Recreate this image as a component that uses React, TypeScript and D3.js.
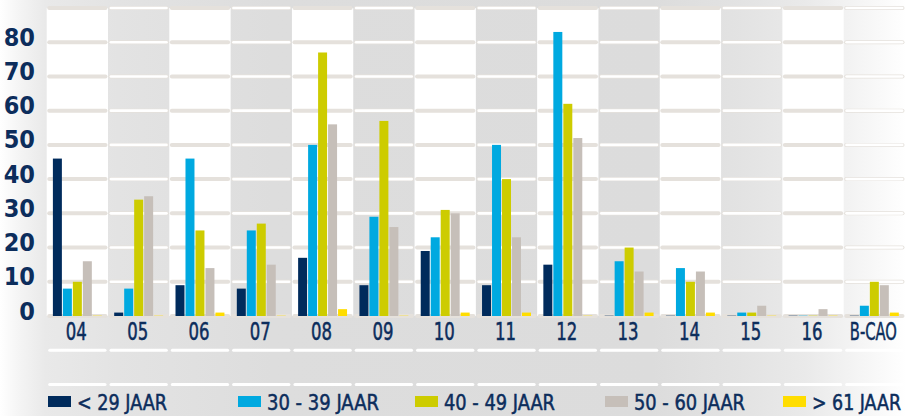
import React from "react";
import * as d3 from "d3";

// categories and series
const categories = ["04", "05", "06", "07", "08", "09", "10", "11", "12", "13", "14", "15", "16", "B-CAO"];
const seriesNames = ["< 29 JAAR", "30 - 39 JAAR", "40 - 49 JAAR", "50 - 60 JAAR", "> 61 JAAR"];
const under29 = [46, 1, 9, 8, 17, 9, 19, 9, 15, 0, 0, 0, 0, 0];
const age30to39 = [8, 8, 46, 25, 50, 29, 23, 50, 83, 16, 14, 1, 0, 3];
const age40to49 = [10, 34, 25, 27, 77, 57, 31, 40, 62, 20, 10, 1, 0, 10];
const age50to60 = [16, 35, 14, 15, 56, 26, 30, 23, 52, 13, 13, 3, 2, 9];
const over61 = [0, 0, 1, 0, 2, 0, 1, 1, 0, 1, 1, 0, 0, 1];
const yTicks = [0, 10, 20, 30, 40, 50, 60, 70, 80];

const seriesValues = [under29, age30to39, age40to49, age50to60, over61];
const colors = ["#002b5c", "#00a9e0", "#cdcc00", "#c6bfb9", "#ffdd00"];
// legend layout (left edge, text width)
const legendX = [48, 238, 415, 605, 783];
const legendW = [90, 112, 111, 111, 89];

const W = 906;
const H = 416;
const navy = "#0c2d5c";
const font = "'Liberation Sans Narrow', 'DejaVu Sans Condensed', sans-serif";

export default function App() {
  const x = d3.scaleBand<string>().domain(categories).range([46.7, 905]).paddingInner(0).paddingOuter(0);
  const inner = d3
    .scaleBand<number>()
    .domain(d3.range(seriesNames.length))
    .range([0, x.bandwidth()])
    .paddingInner(0.1)
    .paddingOuter(0.62);
  const y = d3.scaleLinear().domain([0, 90]).range([316, 8]);
  const gridVals = d3.range(0, 100, 10);
  const lowerVals = [-10, -20, -30];

  return (
    <svg width={W} height={H} style={{ position: "absolute", left: 0, top: 0 }}>
      <defs>
        <linearGradient id="bg" x1="0" x2="1" y1="0" y2="0">
          <stop offset="0" stopColor="#ffffff" />
          <stop offset="0.02" stopColor="#f5f5f5" />
          <stop offset="0.05" stopColor="#e9e9e9" />
          <stop offset="0.13" stopColor="#e3e3e3" />
          <stop offset="0.3" stopColor="#dddddd" />
          <stop offset="0.72" stopColor="#dcdcdc" />
          <stop offset="0.82" stopColor="#e3e3e3" />
          <stop offset="0.89" stopColor="#eaeaea" />
          <stop offset="0.94" stopColor="#f3f3f3" />
          <stop offset="1" stopColor="#ffffff" />
        </linearGradient>
      </defs>
      <rect width={W} height={H} fill="url(#bg)" />

      {/* white bands */}
      {categories.map((c, i) =>
        i % 2 === 0 ? (
          <rect key={c} x={x(c)} y={y(90)} width={x.bandwidth()} height={y(0) - y(90)} fill="#ffffff" />
        ) : null
      )}

      {/* grid */}
      {gridVals.map((v) => (
        <g key={v}>
          {categories.map((c, i) => (
            <g key={c}>
              <rect
                x={x(c)! + 0.5}
                y={y(v) - 2}
                width={x.bandwidth() - 1}
                height={4}
                rx={2}
                fill="#e5e1dc"
              />
              {i % 2 === 1 && v > 0 ? (
                <rect x={x(c)! + 1.5} y={y(v) - 1.3} width={x.bandwidth() - 3} height={2.6} rx={1.3} fill="#ffffff" />
              ) : null}
            </g>
          ))}
        </g>
      ))}
      {lowerVals.map((v) => (
        <g key={v}>
          {categories.map((c) => (
            <rect
              key={c}
              x={x(c)! + 1.5}
              y={y(v) - 1.5}
              width={x.bandwidth() - 3}
              height={3}
              rx={1.5}
              fill="#ffffff"
            />
          ))}
        </g>
      ))}

      {/* bars */}
      {categories.map((c, ci) => (
        <g key={c} transform={`translate(${x(c)},0)`}>
          {seriesValues.map((vals, si) => {
            const v = vals[ci];
            const top = y(v);
            return v > 0 ? (
              <rect key={si} x={inner(si)} y={top} width={inner.bandwidth()} height={y(0) - top} fill={colors[si]} />
            ) : (
              <rect
                key={si}
                x={inner(si)}
                y={y(0) - 1}
                width={inner.bandwidth()}
                height={1}
                fill={colors[si]}
                opacity={0.3}
              />
            );
          })}
        </g>
      ))}

      {/* y labels */}
      {yTicks.map((t) => (
        <text
          key={t}
          x={35}
          y={y(t) + 3.5}
          textAnchor="end"
          fontFamily={font}
          fontWeight="bold"
          fontSize={25}
          fill={navy}
        >
          {t}
        </text>
      ))}

      {/* x labels */}
      {categories.map((c) => (
        <text
          key={c}
          x={x(c)! + x.bandwidth() / 2 - 1}
          y={340}
          textAnchor="middle"
          fontFamily={font}
          fontSize={24}
          fill={navy}
          stroke={navy}
          strokeWidth={0.5}
          textLength={c.length > 2 ? 47 : 21}
          lengthAdjust="spacingAndGlyphs"
        >
          {c}
        </text>
      ))}

      {/* legend */}
      {seriesNames.map((s, i) => (
        <g key={s} transform={`translate(${legendX[i]},0)`}>
          <rect x={0} y={396} width={23} height={11} fill={colors[i]} />
          <text
            x={29}
            y={410}
            fontFamily={font}
            fontSize={22}
            fill={navy}
            stroke={navy}
            strokeWidth={0.5}
            textLength={legendW[i]}
            lengthAdjust="spacingAndGlyphs"
          >
            {s}
          </text>
        </g>
      ))}
    </svg>
  );
}
